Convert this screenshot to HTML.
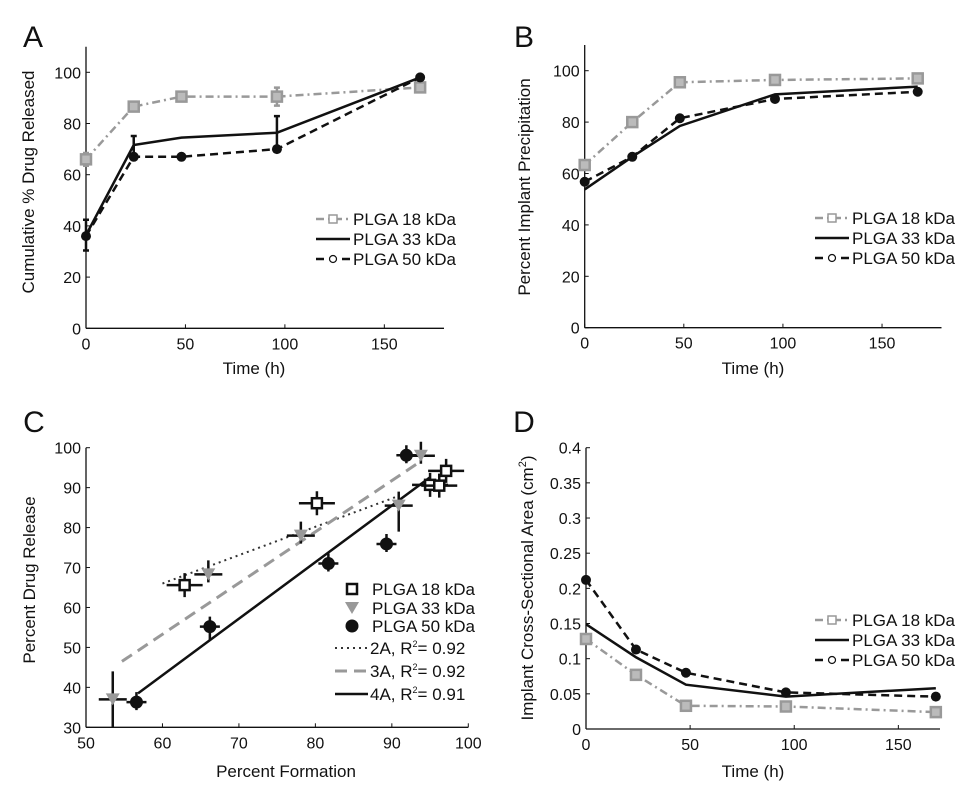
<!DOCTYPE html>
<html><head><meta charset="utf-8"><style>
body{margin:0;background:#fff;}
svg text{font-family:"Liberation Sans",Arial,sans-serif;fill:#111;}
</style></head><body>
<svg id="fig" width="972" height="795" viewBox="0 0 972 795" xmlns="http://www.w3.org/2000/svg"></svg>
<script>
// ---- data ----
const timeH = [0,24,48,96,168];
const aRel18 = [66,86.6,90.5,90.5,94.1];
const aRel33 = [36.4,71.6,74.5,76.4,98];
const aRel50 = [36,67,67,70,98];
const aErr33 = [6,3.5,0.8,6.5,0.5];
const aErr18 = [2.5,1,1.5,3.5,1];
const bPrec18 = [63.3,80,95.5,96.4,97];
const bPrec33 = [53.8,66.5,78.5,90.8,93.8];
const bPrec50 = [56.8,66.5,81.5,89,91.8];
const cForm18 = [62.9,80.2,95,96.2,97.1];
const cRel18 = [65.6,86.1,90.7,90.5,94.2];
const cForm33 = [53.5,66,78.1,90.9,93.8];
const cRel33 = [37,68.3,78,85.5,98];
const cForm50 = [56.6,66.2,81.7,89.3,91.9];
const cRel50 = [36.3,55.2,71,75.9,98.1];
const fit2A = [[60,66],[91,88]];
const fit3A = [[54.7,46.5],[93.7,96.5]];
const fit4A = [[56.8,38.5],[95,92.6]];
const dArea18 = [0.128,0.077,0.033,0.032,0.024];
const dArea33 = [0.149,0.102,0.063,0.046,0.058];
const dArea50 = [0.212,0.113,0.080,0.052,0.046];
const timeTicks = [0,50,100,150];
const pctTicks = [0,20,40,60,80,100];
const cXTicks = [50,60,70,80,90,100];
const cYTicks = [30,40,50,60,70,80,90,100];
const dYTicks = [0,0.05,0.1,0.15,0.2,0.25,0.3,0.35,0.4];
const dYLabels = ['0','0.05','0.1','0.15','0.2','0.25','0.3','0.35','0.4'];
const legendNames = ['PLGA 18 kDa','PLGA 33 kDa','PLGA 50 kDa'];

const svg = document.getElementById('fig');
const NS = 'http://www.w3.org/2000/svg';
function el(tag, attrs, parent){ const e=document.createElementNS(NS,tag); for(const k in attrs) e.setAttribute(k,attrs[k]); (parent||svg).appendChild(e); return e; }
function scale(d0,d1,p0,p1){ return v => p0+(v-d0)*(p1-p0)/(d1-d0); }
const GRAY='#999';
const TK=16;

function axes(g, X, Y, xd, yd, xt, yt, ytl){
  const x0=X(xd[0]), x1=X(xd[1]), y0=Y(yd[0]), y1=Y(yd[1]);
  let a=el('line',{x1:x0,y1:y0,x2:x1,y2:y0,stroke:'#111','stroke-width':1.3},g);
   
  a=el('line',{x1:x0,y1:y0,x2:x0,y2:y1,stroke:'#111','stroke-width':1.3},g);
   
  xt.forEach(v=>{ el('line',{x1:X(v),y1:y0,x2:X(v),y2:y0-4,stroke:'#111'},g);
    const t=el('text',{x:X(v),y:y0+21,'text-anchor':'middle','font-size':TK},g); t.textContent=v;
      });
  yt.forEach((v,i)=>{ el('line',{x1:x0,y1:Y(v),x2:x0+4,y2:Y(v),stroke:'#111'},g);
    const t=el('text',{x:x0-5,y:Y(v)+6,'text-anchor':'end','font-size':TK},g); t.textContent=ytl?ytl[i]:v;
      });
}
function txt(g,s,x,y,size,rot,name){
  const t=el('text',{x:x,y:y,'font-size':size,'text-anchor':'middle'},g);
  if(rot) t.setAttribute('transform','rotate(-90 '+x+' '+y+')');
  t.textContent=s;   return t;
}
const styles = [
  {stroke:GRAY,dash:'8 4 2 4',w:2.5,marker:'sq'},
  {stroke:'#111',dash:'',w:2.5,marker:'none'},
  {stroke:'#111',dash:'8 5',w:2.5,marker:'dot'}
];
function marker(g,type,x,y){
  let m;
  if(type==='sq') m=el('rect',{x:x-5,y:y-5,width:10,height:10,fill:'#bbb',stroke:GRAY,'stroke-width':2.5},g);
  else if(type==='dot') m=el('circle',{cx:x,cy:y,r:5,fill:'#111'},g);
  else if(type==='osq') m=el('rect',{x:x-5,y:y-5,width:10,height:10,fill:'#fff',stroke:'#111','stroke-width':2.5},g);
  else if(type==='tri') m=el('path',{d:`M${x-7} ${y-6}L${x+7} ${y-6}L${x} ${y+6}Z`,fill:GRAY},g);
  else if(type==='bdot') m=el('circle',{cx:x,cy:y,r:6.5,fill:'#111'},g);
  else return;
   
}
function series(g,X,Y,xs,ys,st,name,err){
  const d=xs.map((v,i)=>(i?'L':'M')+X(v)+' '+Y(ys[i])).join('');
  const p=el('path',{d:d,fill:'none',stroke:st.stroke,'stroke-width':st.w,'stroke-dasharray':st.dash},g);
   
  if(err) xs.forEach((v,i)=>{ const e=err[i]; if(e<1) return;
    el('path',{d:`M${X(v)} ${Y(ys[i]-e)}V${Y(ys[i]+e)}M${X(v)-3} ${Y(ys[i]-e)}h6M${X(v)-3} ${Y(ys[i]+e)}h6`,stroke:st.stroke,'stroke-width':2.5,fill:'none'},g); });
  xs.forEach((v,i)=>marker(g,st.marker,X(v),Y(ys[i])));
}
function legend(g,x,y0,dy){
  styles.forEach((st,i)=>{ const y=y0+i*dy;
    const l=el('line',{x1:x,y1:y,x2:x+34,y2:y,stroke:st.stroke,'stroke-width':st.w,'stroke-dasharray':st.dash},g);
     
    if(st.marker!=='none') el(st.marker==='sq'?'rect':'circle', st.marker==='sq'?{x:x+13,y:y-4,width:8,height:8,fill:'#fff',stroke:GRAY,'stroke-width':1.5}:{cx:x+17,cy:y,r:3.5,fill:'#fff',stroke:'#111','stroke-width':1.2},g);
    const t=el('text',{x:x+37,y:y+6,'font-size':17},g); t.textContent=legendNames[i];
      });
}

// Panel A
(function(){
  const g=el('g',{});  
  const X=scale(0,180,86,444), Y=scale(0,110,328.3,46.7);
  axes(g,X,Y,[0,180],[0,110],timeTicks,pctTicks);
  series(g,X,Y,timeH,aRel18,styles[0],'series-18kda',aErr18);
  series(g,X,Y,timeH,aRel50,styles[2],'series-50kda');
  series(g,X,Y,timeH,aRel33,styles[1],'series-33kda',aErr33);
  legend(g,316,219,20);
  txt(g,'A',33,47,30,false,'panel-label');
  txt(g,'Cumulative % Drug Released',34,182,17,true,'y-axis-title');
  txt(g,'Time (h)',254,374,17,false,'x-axis-title');
})();
// Panel B
(function(){
  const g=el('g',{});  
  const X=scale(0,180,584.7,941.5), Y=scale(0,110,327.7,45);
  axes(g,X,Y,[0,180],[0,110],timeTicks,pctTicks);
  series(g,X,Y,timeH,bPrec18,styles[0],'series-18kda');
  series(g,X,Y,timeH,bPrec50,styles[2],'series-50kda');
  series(g,X,Y,timeH,bPrec33,styles[1],'series-33kda');
  legend(g,815,218,20);
  txt(g,'B',524,47,30,false,'panel-label');
  txt(g,'Percent Implant Precipitation',530,187,17,true,'y-axis-title');
  txt(g,'Time (h)',753,374,17,false,'x-axis-title');
})();
// Panel C
(function(){
  const g=el('g',{});  
  const X=scale(50,100,86,468.3), Y=scale(30,100,727.3,447.7);
  axes(g,X,Y,[50,100],[30,100],cXTicks,cYTicks);
  const fits=[[fit2A,'#333','2 4',2,'fit-2a'],[fit3A,GRAY,'12 7',3,'fit-3a'],[fit4A,'#111','',2.5,'fit-4a']];
  fits.forEach(f=>{ const l=el('line',{x1:X(f[0][0][0]),y1:Y(f[0][0][1]),x2:X(f[0][1][0]),y2:Y(f[0][1][1]),stroke:f[1],'stroke-dasharray':f[2],'stroke-width':f[3]},g);
      });
  cForm18.forEach((v,i)=>{ el('path',{d:`M${X(v)-18} ${Y(cRel18[i])}h36M${X(v)} ${Y(cRel18[i])-12}v24`,stroke:'#111','stroke-width':2.5},g); marker(g,'osq',X(v),Y(cRel18[i])); });
  cForm33.forEach((v,i)=>{ const up=i==0?28:14, dn=i==0?28:i==3?26:8;
    el('path',{d:`M${X(v)-14} ${Y(cRel33[i])}h28M${X(v)} ${Y(cRel33[i])-up}V${Y(cRel33[i])+dn}`,stroke:'#111','stroke-width':2.5},g); marker(g,'tri',X(v),Y(cRel33[i])); });
  cForm50.forEach((v,i)=>{ el('path',{d:`M${X(v)-10} ${Y(cRel50[i])}h20M${X(v)} ${Y(cRel50[i])-10}v${i==1?24:18}`,stroke:'#111','stroke-width':2.5},g); marker(g,'bdot',X(v),Y(cRel50[i])); });
  const ly=[589,608,626];
  ['osq','tri','bdot'].forEach((m,i)=>{ marker(g,m,352,ly[i]);
    const t=el('text',{x:372,y:ly[i]+6,'font-size':17},g); t.textContent=legendNames[i];
      });
  const fy=[648,671,694], fl=['2A, R','3A, R','4A, R'], fv=['= 0.92','= 0.92','= 0.91'];
  fits.forEach((f,i)=>{ el('line',{x1:335,y1:fy[i],x2:368,y2:fy[i],stroke:f[1],'stroke-dasharray':f[2],'stroke-width':f[3]},g);
    const t=el('text',{x:370,y:fy[i]+6,'font-size':17},g);
    t.innerHTML=fl[i]+'<tspan dy="-7" font-size="9">2</tspan><tspan dy="7">'+fv[i]+'</tspan>';
      });
  txt(g,'C',34,432,30,false,'panel-label');
  txt(g,'Percent Drug Release',35,580,17,true,'y-axis-title');
  txt(g,'Percent Formation',286,777,17,false,'x-axis-title');
})();
// Panel D
(function(){
  const g=el('g',{});  
  const X=scale(0,170,586,940), Y=scale(0,0.4,729,447.7);
  axes(g,X,Y,[0,170],[0,0.4],timeTicks,dYTicks,dYLabels);
  series(g,X,Y,timeH,dArea18,styles[0],'series-18kda');
  series(g,X,Y,timeH,dArea50,styles[2],'series-50kda');
  series(g,X,Y,timeH,dArea33,styles[1],'series-33kda');
  legend(g,815,620,20);
  txt(g,'D',524,432,30,false,'panel-label');
  const t=txt(g,'',533,588,17,true,'y-axis-title');
  t.innerHTML='Implant Cross-Sectional Area (cm<tspan dy="-7" font-size="11">2</tspan><tspan dy="7">)</tspan>';
  txt(g,'Time (h)',753,777,17,false,'x-axis-title');
})();
</script>
</body></html>
